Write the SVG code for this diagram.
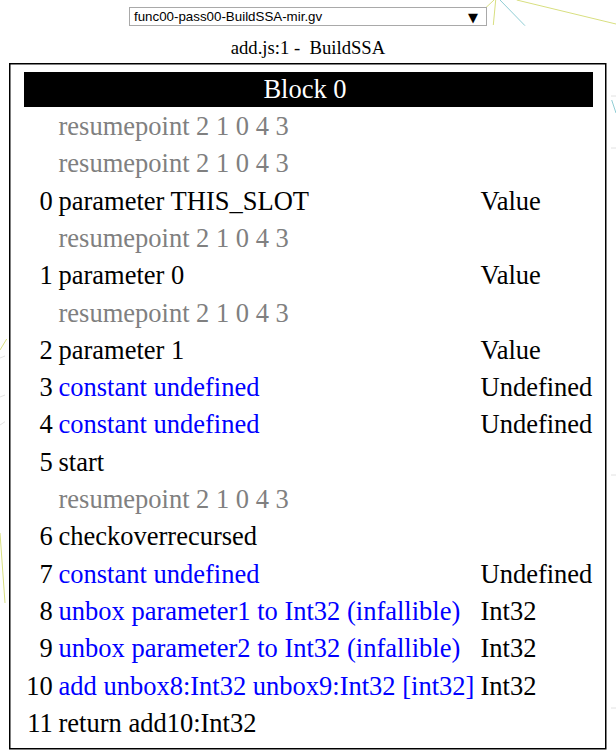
<svg xmlns="http://www.w3.org/2000/svg" width="616" height="756" viewBox="0 0 616 756">
<style>
#block0 text{font-family:'Liberation Serif','Times New Roman',serif;font-size:26.5px;fill:#000}
#block0 text.gr{fill:#808080}
#block0 text.bl{fill:#0000ff}
#block0 text.nm{text-anchor:end}
#block0 text.hd{fill:#fff;text-anchor:middle}
.y{stroke:#d8df80;stroke-width:1;fill:none}
.c{stroke:#90cdd4;stroke-width:1;fill:none}
.h{stroke:#e2e2e2;stroke-width:1;fill:none}
</style>
<rect width="616" height="756" fill="#fff"/>
<g id="background-connectors">
<line class="y" x1="516.7" y1="0" x2="616" y2="24"/>
<line class="c" x1="500" y1="0" x2="525" y2="25.7"/>
<line class="y" x1="495.7" y1="0" x2="493.3" y2="25"/>
<line class="y" x1="494" y1="0" x2="486" y2="7.5"/>
<line class="h" x1="611" y1="96" x2="616" y2="96"/>
<line class="c" x1="611.7" y1="100" x2="616" y2="113"/>
<line class="h" x1="611" y1="148" x2="616" y2="148"/>
<line class="h" x1="611" y1="475" x2="616" y2="475"/>
<line class="h" x1="611" y1="708" x2="616" y2="708"/>
<line class="y" x1="0" y1="350" x2="6.7" y2="339"/>
<line class="h" x1="0" y1="358" x2="5" y2="356"/>
<line class="h" x1="0" y1="397" x2="5" y2="395"/>
<line class="h" x1="0" y1="425" x2="5" y2="421.7"/>
<line class="y" x1="0" y1="533" x2="5" y2="603"/>
</g>
<g id="file-select">
<rect x="129.5" y="7.5" width="357" height="18" fill="#fff" stroke="#a9a9a9"/>
<text x="134" y="21" font-family="'Liberation Sans', Arial, sans-serif" font-size="13.33">func00-pass00-BuildSSA-mir.gv</text>
<text x="473" y="21.5" text-anchor="middle" font-family="'DejaVu Sans', sans-serif" font-size="13">▼</text>
</g>
<g id="title">
<text x="308" y="54" text-anchor="middle" xml:space="preserve" font-family="'Liberation Serif', 'Times New Roman', serif" font-size="18.67">add.js:1 -  BuildSSA</text>
</g>
<g id="block0">
<rect x="9.75" y="63.75" width="596" height="685" fill="#fff" stroke="#000" stroke-width="1.5"/>
<rect x="24" y="72" width="569" height="35" fill="#000"/>
<text class="hd" style="font-family:'Liberation Serif',serif" x="305" y="98">Block 0</text>
<text class="gr" style="font-family:'Liberation Serif',serif" x="58.5" y="135">resumepoint 2 1 0 4 3</text>
<text class="gr" style="font-family:'Liberation Serif',serif" x="58.5" y="172.3">resumepoint 2 1 0 4 3</text>
<text class="nm" style="font-family:'Liberation Serif',serif" x="52.8" y="209.6">0</text><text style="font-family:'Liberation Serif',serif" x="58.5" y="209.6">parameter THIS_SLOT</text><text style="font-family:'Liberation Serif',serif" x="480.5" y="209.6">Value</text>
<text class="gr" style="font-family:'Liberation Serif',serif" x="58.5" y="246.9">resumepoint 2 1 0 4 3</text>
<text class="nm" style="font-family:'Liberation Serif',serif" x="52.8" y="284.2">1</text><text style="font-family:'Liberation Serif',serif" x="58.5" y="284.2">parameter 0</text><text style="font-family:'Liberation Serif',serif" x="480.5" y="284.2">Value</text>
<text class="gr" style="font-family:'Liberation Serif',serif" x="58.5" y="321.5">resumepoint 2 1 0 4 3</text>
<text class="nm" style="font-family:'Liberation Serif',serif" x="52.8" y="358.8">2</text><text style="font-family:'Liberation Serif',serif" x="58.5" y="358.8">parameter 1</text><text style="font-family:'Liberation Serif',serif" x="480.5" y="358.8">Value</text>
<text class="nm" style="font-family:'Liberation Serif',serif" x="52.8" y="396.1">3</text><text class="bl" style="font-family:'Liberation Serif',serif" x="58.5" y="396.1">constant undefined</text><text style="font-family:'Liberation Serif',serif" x="480.5" y="396.1">Undefined</text>
<text class="nm" style="font-family:'Liberation Serif',serif" x="52.8" y="433.4">4</text><text class="bl" style="font-family:'Liberation Serif',serif" x="58.5" y="433.4">constant undefined</text><text style="font-family:'Liberation Serif',serif" x="480.5" y="433.4">Undefined</text>
<text class="nm" style="font-family:'Liberation Serif',serif" x="52.8" y="470.7">5</text><text style="font-family:'Liberation Serif',serif" x="58.5" y="470.7">start</text>
<text class="gr" style="font-family:'Liberation Serif',serif" x="58.5" y="508">resumepoint 2 1 0 4 3</text>
<text class="nm" style="font-family:'Liberation Serif',serif" x="52.8" y="545.3">6</text><text style="font-family:'Liberation Serif',serif" x="58.5" y="545.3">checkoverrecursed</text>
<text class="nm" style="font-family:'Liberation Serif',serif" x="52.8" y="582.6">7</text><text class="bl" style="font-family:'Liberation Serif',serif" x="58.5" y="582.6">constant undefined</text><text style="font-family:'Liberation Serif',serif" x="480.5" y="582.6">Undefined</text>
<text class="nm" style="font-family:'Liberation Serif',serif" x="52.8" y="619.9">8</text><text class="bl" style="font-family:'Liberation Serif',serif" x="58.5" y="619.9">unbox parameter1 to Int32 (infallible)</text><text style="font-family:'Liberation Serif',serif" x="480.5" y="619.9">Int32</text>
<text class="nm" style="font-family:'Liberation Serif',serif" x="52.8" y="657.2">9</text><text class="bl" style="font-family:'Liberation Serif',serif" x="58.5" y="657.2">unbox parameter2 to Int32 (infallible)</text><text style="font-family:'Liberation Serif',serif" x="480.5" y="657.2">Int32</text>
<text class="nm" style="font-family:'Liberation Serif',serif" x="52.8" y="694.5">10</text><text class="bl" style="font-family:'Liberation Serif',serif" x="58.5" y="694.5">add unbox8:Int32 unbox9:Int32 [int32]</text><text style="font-family:'Liberation Serif',serif" x="480.5" y="694.5">Int32</text>
<text class="nm" style="font-family:'Liberation Serif',serif" x="52.8" y="731.8">11</text><text style="font-family:'Liberation Serif',serif" x="58.5" y="731.8">return add10:Int32</text>
</g>
</svg>
